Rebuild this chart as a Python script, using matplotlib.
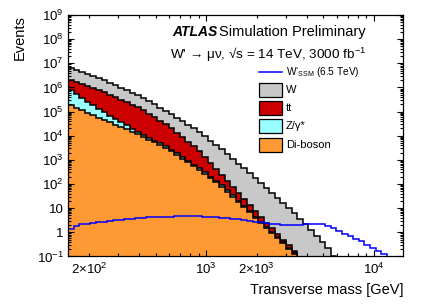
import numpy as np
import matplotlib
matplotlib.use("Agg")
import matplotlib.pyplot as plt
from matplotlib.patches import Rectangle
from matplotlib.lines import Line2D

plt.rcParams['font.family'] = ['Liberation Sans', 'DejaVu Sans']
plt.rcParams['mathtext.fontset'] = 'custom'
plt.rcParams['mathtext.rm'] = 'Liberation Sans'
plt.rcParams['mathtext.it'] = 'Liberation Sans:italic'
plt.rcParams['mathtext.bf'] = 'Liberation Sans:bold'

# Binning (log-spaced transverse mass bins, GeV)
MASS_MIN = 150
MASS_MAX = 15000
N_BINS = 60

# Background yields per bin
wjets = [4.35e6, 3.62e6, 3.02e6, 2.52e6, 2.08e6, 1.74e6, 1.39e6, 1.09e6, 8.6e5, 6.75e5,
         5.32e5, 4.19e5, 3.27e5, 2.5e5, 1.88e5, 1.42e5, 1.06e5, 7.9e4, 5.86e4, 4.33e4,
         3.19e4, 2.3e4, 1.69e4, 1.22e4, 8.24e3, 5.45e3, 3.68e3, 2.47e3, 1.62e3, 1.05e3,
         660, 421, 265, 169, 106, 65.5, 40.5, 25.1, 15.5, 9.6,
         5.83, 3.6, 2.2, 1.3, 0.73, 0.41, 0.22, 0.109, 0, 0,
         0, 0, 0, 0, 0, 0, 0, 0, 0, 0]
ttbar = [1.23e6, 1.15e6, 1.03e6, 9.1e5, 7.9e5, 6.85e5, 5.58e5, 4.4e5, 3.51e5, 2.79e5,
         2.21e5, 1.75e5, 1.38e5, 1.02e5, 7.18e4, 5.12e4, 3.6e4, 2.56e4, 1.77e4, 1.13e4,
         7.3e3, 4.78e3, 3.06e3, 1.95e3, 1.06e3, 547, 283, 145, 76, 38,
         19.9, 10.7, 5.8, 3.1, 1.66, 0.87, 0.45, 0.227, 0.115, 0.059,
         0.03, 0, 0, 0, 0, 0, 0, 0, 0, 0,
         0, 0, 0, 0, 0, 0, 0, 0, 0, 0]
zgamma = [6.06e5, 3.99e5, 2.65e5, 1.69e5, 1.09e5, 6.84e4, 4.68e4, 3.1e4, 2.07e4, 1.32e4,
          8.6e3, 5.26e3, 2.84e3, 1.88e3, 1.37e3, 1.05e3, 764, 539, 356, 251,
          174, 122, 85, 60, 40, 27, 18, 11.9, 7.3, 4.2,
          2.4, 1.3, 0.665, 0.4, 0.24, 0.148, 0.092, 0.058, 0.035, 0.021,
          0.013, 0, 0, 0, 0, 0, 0, 0, 0, 0,
          0, 0, 0, 0, 0, 0, 0, 0, 0, 0]
diboson = [1.83e5, 1.44e5, 1.15e5, 9.0e4, 7.2e4, 5.65e4, 4.54e4, 3.61e4, 2.87e4, 2.28e4,
           1.83e4, 1.46e4, 1.16e4, 8.95e3, 6.85e3, 5.25e3, 4.02e3, 3.08e3, 2.31e3, 1.63e3,
           1.13e3, 794, 552, 388, 262, 176, 118, 77, 47.5, 29.5,
           18.3, 11.0, 6.65, 4.0, 2.4, 1.48, 0.92, 0.575, 0.35, 0.21,
           0.127, 0, 0, 0, 0, 0, 0, 0, 0, 0,
           0, 0, 0, 0, 0, 0, 0, 0, 0, 0]

# W' SSM signal, 6.5 TeV
wprime = [1.35, 1.89, 2.12, 2.29, 2.44, 2.61, 2.77, 2.96, 3.16, 3.35,
          3.52, 3.68, 3.86, 4.02, 4.13, 4.26, 4.34, 4.46, 4.5, 4.55,
          4.58, 4.6, 4.58, 4.52, 4.46, 4.34, 4.22, 4.06, 3.86, 3.65,
          3.44, 3.19, 2.96, 2.74, 2.56, 2.40, 2.26, 2.16, 2.06, 1.98,
          2.02, 2.10, 2.18, 2.26, 2.31, 2.25, 1.89, 1.55, 1.15, 0.84,
          0.69, 0.55, 0.43, 0.29, 0.22, 0.166, 0.127, 0.08, 0, 0]

stack_labels = ["Di-boson", "Z/γ*", "tt", "W"]
stack_colors = ["#ff9933", "#99ffff", "#cc0000", "#c8c8c8"]

y_major = [1e-1, 1, 10, 1e2, 1e3, 1e4, 1e5, 1e6, 1e7, 1e8, 1e9]
y_labels = [r"$10^{-1}$", "1", "10", r"$10^{2}$", r"$10^{3}$", r"$10^{4}$",
            r"$10^{5}$", r"$10^{6}$", r"$10^{7}$", r"$10^{8}$", r"$10^{9}$"]

FLOOR = 1e-3

edges = np.logspace(np.log10(MASS_MIN), np.log10(MASS_MAX), N_BINS + 1)
cum = np.cumsum(np.array([diboson, zgamma, ttbar, wjets]), axis=0)

fig = plt.figure(figsize=(4.25, 3.06), dpi=100)
ax = fig.add_axes([0.16, 0.162, 0.7894, 0.789])

for i in reversed(range(4)):
    top = np.clip(cum[i], FLOOR, None)
    ax.stairs(top, edges, baseline=FLOOR, fill=True, color=stack_colors[i], lw=0)
    ax.stairs(top, edges, baseline=FLOOR, color="black", lw=1.1)

ax.stairs(np.clip(wprime, FLOOR, None), edges, baseline=FLOOR, color="#0000ff", lw=1.1)

ax.set_xscale("log")
ax.set_yscale("log")
ax.set_xlim(MASS_MIN, MASS_MAX)
ax.set_ylim(0.1, 1e9)

# y ticks
ax.set_yticks(y_major, y_labels)
y_minor = [m * 10.0 ** e for e in range(-1, 9) for m in range(2, 10)]
ax.set_yticks(y_minor, minor=True)
ax.yaxis.set_minor_formatter(plt.NullFormatter())

# x ticks (ROOT style: labels on 2x10^2, 10^3, 2x10^3, 10^4)
ax.set_xticks([1e3, 1e4], [r"$10^{3}$", r"$10^{4}$"])
x_minor = [m * 10.0 ** e for e in range(2, 5) for m in range(2, 10)
           if MASS_MIN <= m * 10.0 ** e <= MASS_MAX]
x_minor_labels = [r"$2{\times}10^{2}$" if v == 200 else
                  (r"$2{\times}10^{3}$" if v == 2000 else "") for v in x_minor]
ax.set_xticks(x_minor, x_minor_labels, minor=True)

ax.tick_params(which="both", direction="in", top=True, right=True, labelsize=9.5)
ax.tick_params(which="major", length=4.5, width=0.8)
ax.tick_params(which="minor", length=2.3, width=0.8)
ax.tick_params(axis="x", which="both", pad=4)
ax.tick_params(axis="y", which="both", pad=3)
for sp in ax.spines.values():
    sp.set_linewidth(0.9)

ax.set_ylabel("Events", loc="top", fontsize=10.5, labelpad=7)
ax.set_xlabel("Transverse mass [GeV]", loc="right", fontsize=10.5, labelpad=4)

def fx(px):
    return px / 425.0

def fy(py):
    return 1.0 - py / 306.0

fig.text(fx(172), fy(32), "ATLAS", fontsize=10, weight="bold", style="italic", va="center")
fig.text(fx(219), fy(32), "Simulation Preliminary", fontsize=10.5, va="center")
fig.text(fx(170), fy(55), "W' → μν, √s = 14 TeV, 3000 fb$^{-1}$", fontsize=9.7, va="center")

# legend, drawn by hand like the ROOT TLegend
fig.add_artist(Line2D([fx(259), fx(282)], [fy(72), fy(72)], color="#0000ff", lw=1.1))
fig.text(fx(286), fy(72), r"W'$_{\rm SSM}$ (6.5 TeV)", fontsize=7.3, va="center")
leg_order = [3, 2, 1, 0]
for k, i in enumerate(leg_order):
    yc = 89.8 + k * 18.3
    fig.add_artist(Rectangle((fx(259), fy(yc + 7)), fx(23), 14 / 306.0,
                             facecolor=stack_colors[i], edgecolor="black", lw=0.9))
    fig.text(fx(286), fy(yc), stack_labels[i], fontsize=8, va="center")

fig.savefig("out.png", dpi=100)
